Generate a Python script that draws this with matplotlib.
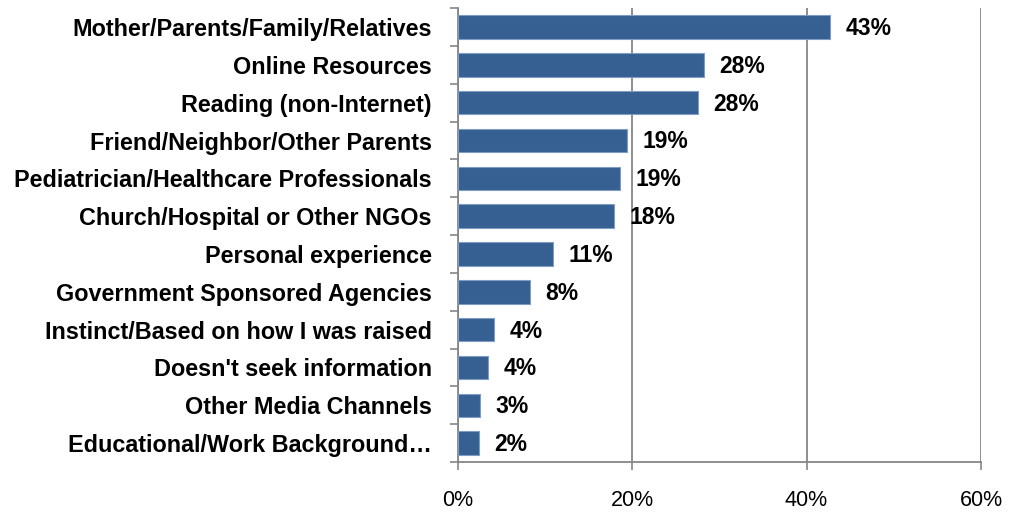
import numpy as np
import matplotlib.pyplot as plt
from matplotlib.ticker import FixedLocator, PercentFormatter

plt.rcParams['font.family'] = ['Liberation Sans', 'DejaVu Sans']

categories = ['Mother/Parents/Family/Relatives', 'Online Resources', 'Reading (non-Internet)',
              'Friend/Neighbor/Other Parents', 'Pediatrician/Healthcare Professionals',
              'Church/Hospital or Other NGOs', 'Personal experience', 'Government Sponsored Agencies',
              'Instinct/Based on how I was raised', "Doesn't seek information",
              'Other Media Channels', 'Educational/Work Background\u2026']
shares = [42.7, 28.2, 27.5, 19.4, 18.6, 17.9, 10.9, 8.3, 4.2, 3.5, 2.6, 2.5]

fig = plt.figure(figsize=(10.17, 5.12), dpi=100)
ax = fig.add_axes([0.450, 0.0977, 0.5146, 0.8863])

y = np.arange(len(categories))
bars = ax.barh(y, shares, height=0.62, color='#366092', edgecolor='#7f9cc4', linewidth=0.8, zorder=3)

for yi, v in zip(y, shares):
    ax.annotate(f'{v:.0f}%', xy=(v, yi), xytext=(11, -1), textcoords='offset points',
                va='center', ha='left', fontsize=16.5, fontweight='bold')

ax.set_ylim(len(categories) - 0.5, -0.5)
ax.set_xlim(0, 60)
ax.set_xticks([0, 20, 40, 60])
ax.xaxis.set_major_formatter(PercentFormatter(decimals=0))
ax.set_yticks(y)
ax.set_yticklabels(categories, fontsize=16.8, fontweight='bold')
ax.tick_params(axis='y', which='major', length=0, pad=18.5)
ax.yaxis.set_minor_locator(FixedLocator(np.arange(-0.5, len(categories), 1)))
ax.tick_params(axis='y', which='minor', length=6, color='#868686', width=1.2)
ax.tick_params(axis='x', length=6, color='#868686', width=1.2, labelsize=15.5, pad=14)

ax.grid(axis='x', color='#868686', linewidth=1.3, zorder=0)
for s in ['top', 'right']:
    ax.spines[s].set_visible(False)
for s in ['left', 'bottom']:
    ax.spines[s].set_color('#868686')
    ax.spines[s].set_linewidth(1.3)

fig.savefig('out.png', dpi=100)
